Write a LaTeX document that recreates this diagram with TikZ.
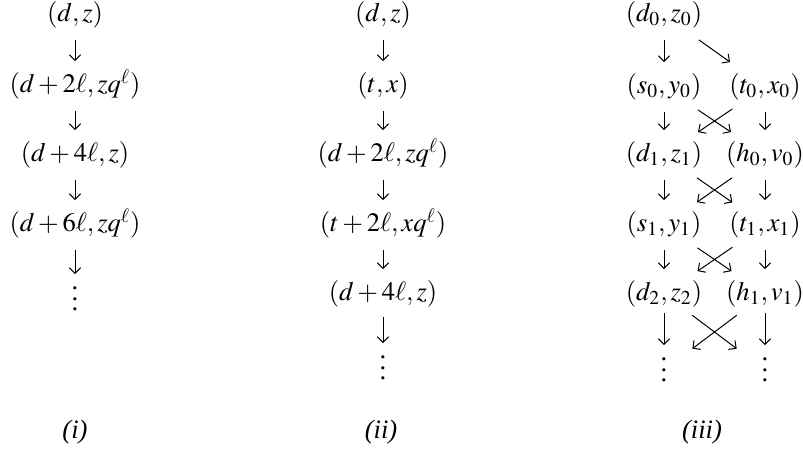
\documentclass[tikz,border=0pt]{standalone}
\usepackage{mathptmx}
\usepackage[no-math]{fontspec}
\setmainfont{Liberation Serif}
\newfontfamily\capfont{Liberation Serif Italic}
\usetikzlibrary{arrows.meta}
\newcommand{\mydots}{\vbox{\baselineskip5.2pt\lineskiplimit0pt\hbox{.}\hbox{.}\hbox{.}}}
\tikzset{
  mnode/.style={inner sep=0pt, outer xsep=0pt, outer ysep=5.8pt, text height=10pt, text depth=3.3pt, font=\fontsize{13.3}{16}\selectfont},
  dotsnode/.style={inner sep=0pt, outer xsep=12.5pt, outer ysep=6.5pt, font=\fontsize{13.3}{16}\selectfont},
  conn/.style={-{Straight Barb[length=2.8pt,width=5.6pt]}, line width=0.5pt},
  diag/.style={conn, shorten <=-1.8pt, shorten >=-1.8pt},
  longconn/.style={conn, shorten <=-3pt},
  labnode/.style={inner sep=0pt, font=\fontsize{13.3}{16}\selectfont\capfont}
}
\begin{document}
\begin{tikzpicture}[x=0.5pt, y=-0.5pt]
\useasboundingbox (0,0) rectangle (803,449);
% column (i)
\node[mnode] (i1) at (75,15) {$(d,z)$};
\node[mnode] (i2) at (75,86) {$(d+2\ell,zq^{\ell})$};
\node[mnode] (i3) at (75,155) {$(d+4\ell,z)$};
\node[mnode] (i4) at (75,225) {$(d+6\ell,zq^{\ell})$};
\node[dotsnode] (i5) at (75,299) {\mydots};
\draw[conn] (i1) -- (i2);
\draw[conn] (i2) -- (i3);
\draw[conn] (i3) -- (i4);
\draw[conn] (i4) -- (i5);
% column (ii)
\node[mnode] (ii1) at (383,15) {$(d,z)$};
\node[mnode] (ii2) at (383,86) {$(t,x)$};
\node[mnode] (ii3) at (383,155) {$(d+2\ell,zq^{\ell})$};
\node[mnode] (ii4) at (383,225) {$(t+2\ell,xq^{\ell})$};
\node[mnode] (ii5) at (383,294) {$(d+4\ell,z)$};
\node[dotsnode] (ii6) at (383,368) {\mydots};
\draw[conn] (ii1) -- (ii2);
\draw[conn] (ii2) -- (ii3);
\draw[conn] (ii3) -- (ii4);
\draw[conn] (ii4) -- (ii5);
\draw[conn, shorten <=-1pt] (ii5) -- (ii6);
% column (iii)
\node[mnode] (a0) at (664,15) {$(d_0,z_0)$};
\node[mnode] (s0) at (664,87) {$(s_0,y_0)$};
\node[mnode] (t0) at (765,87) {$(t_0,x_0)$};
\node[mnode] (d1) at (664,155) {$(d_1,z_1)$};
\node[mnode] (h0) at (765,155) {$(h_0,v_0)$};
\node[mnode] (s1) at (664,225) {$(s_1,y_1)$};
\node[mnode] (t1) at (765,225) {$(t_1,x_1)$};
\node[mnode] (d2) at (664,294) {$(d_2,z_2)$};
\node[mnode] (h1) at (765,294) {$(h_1,v_1)$};
\node[dotsnode] (e1) at (664,370) {\mydots};
\node[dotsnode] (e2) at (765,370) {\mydots};
\draw[conn] (a0) -- (s0);
\draw[conn] (a0) -- (t0);
\draw[conn] (s0) -- (d1);
\draw[diag] (s0) -- (h0);
\draw[diag] (t0) -- (d1);
\draw[conn] (t0) -- (h0);
\draw[conn] (d1) -- (s1);
\draw[diag] (d1) -- (t1);
\draw[diag] (h0) -- (s1);
\draw[conn] (h0) -- (t1);
\draw[conn] (s1) -- (d2);
\draw[diag] (s1) -- (h1);
\draw[diag] (t1) -- (d2);
\draw[conn] (t1) -- (h1);
\draw[longconn] (d2) -- (e1);
\draw[longconn] (d2) -- (e2);
\draw[longconn] (h1) -- (e1);
\draw[longconn] (h1) -- (e2);
% captions
\node[labnode] (c1) at (75,432) {(i)};
\node[labnode] (c2) at (381,432) {(ii)};
\node[labnode] (c3) at (702,432) {(iii)};
\end{tikzpicture}
\end{document}
